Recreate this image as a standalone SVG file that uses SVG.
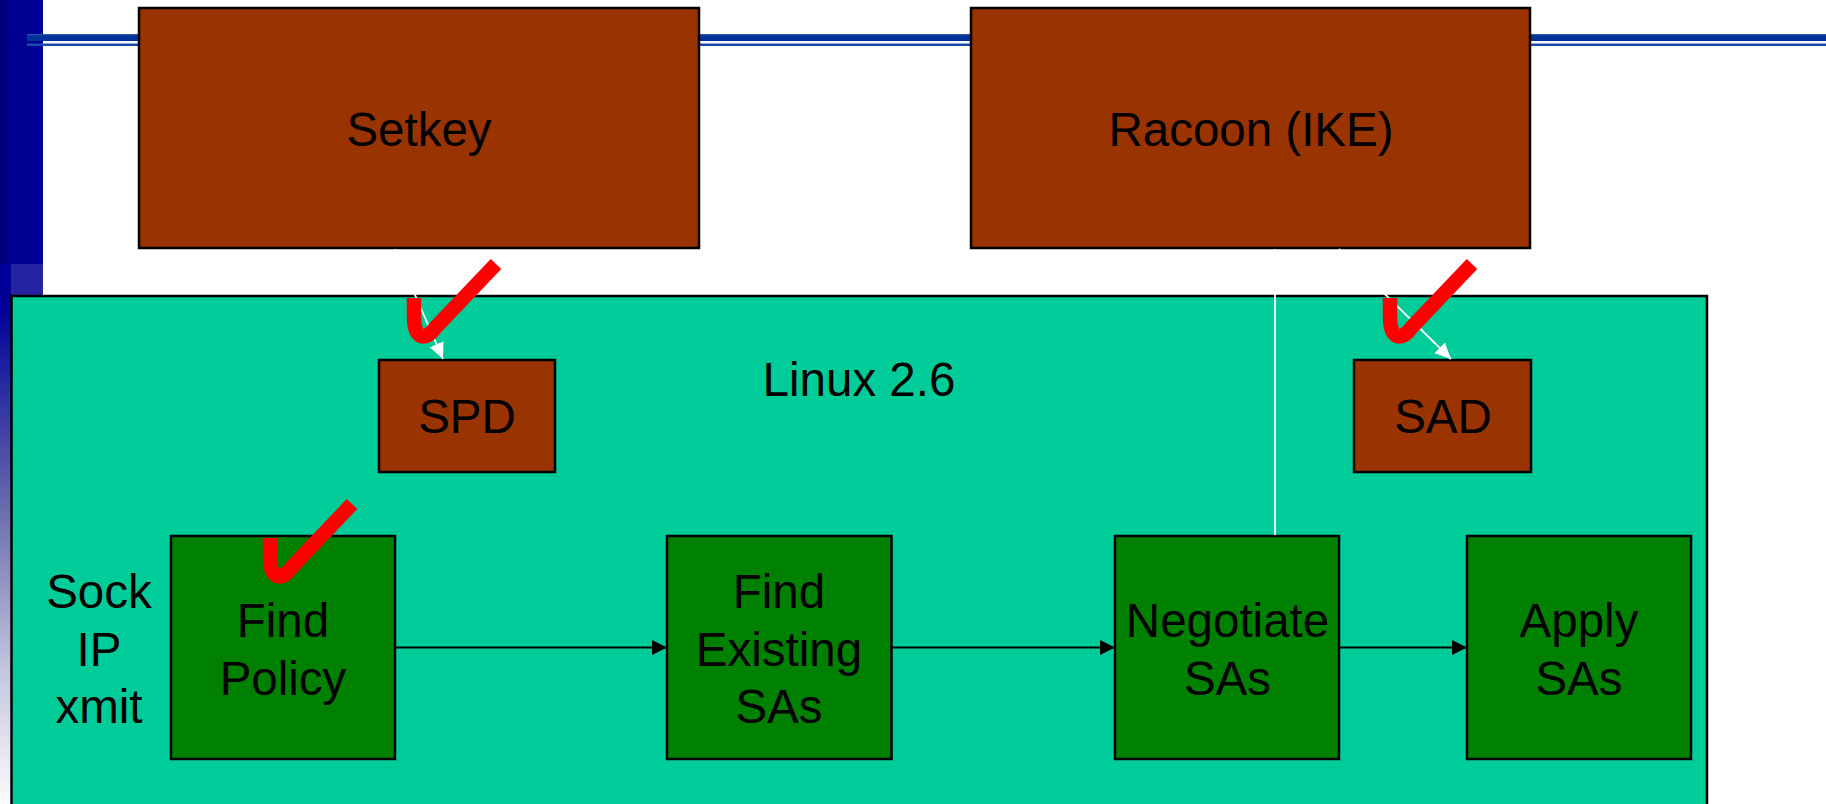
<svg xmlns="http://www.w3.org/2000/svg" width="1826" height="804" viewBox="0 0 1826 804">
<defs>
<style>
.txt{font-family:"Liberation Sans",Arial,sans-serif;font-size:47.5px;fill:#000;text-anchor:middle}
.brown{fill:#993300;stroke:#000;stroke-width:2.5}
.green{fill:#008000;stroke:#000;stroke-width:2.5}
.linux{fill:#00CC99;stroke:#000;stroke-width:2.5}
.flow{stroke:#000;stroke-width:2;fill:none;marker-end:url(#ah)}
.wl{stroke:#fff;stroke-width:1.8;fill:none}
.wa{marker-end:url(#wh)}
.tick{fill:none;stroke:#ff0000;stroke-width:14.5}
</style>
<marker id="ah" markerUnits="userSpaceOnUse" markerWidth="16" markerHeight="16" refX="15" refY="7.5" orient="auto">
<path d="M0,0 L15,7.5 L0,15 z" fill="#000"/>
</marker>
<marker id="wh" markerUnits="userSpaceOnUse" markerWidth="17" markerHeight="16" refX="16" refY="7.5" orient="auto">
<path d="M0,0 L16,7.5 L0,15 z" fill="#fff"/>
</marker>
<linearGradient id="barBottom" gradientUnits="userSpaceOnUse" x1="0" y1="264" x2="0" y2="804">
<stop offset="0" stop-color="#000099"/>
<stop offset="0.08" stop-color="#000099"/>
<stop offset="0.45" stop-color="#6a6aae"/>
<stop offset="0.75" stop-color="#c4c4de"/>
<stop offset="1" stop-color="#fbfbfd"/>
</linearGradient>
<linearGradient id="barTop" x1="0" y1="0" x2="1" y2="0">
<stop offset="0" stop-color="#00007a"/>
<stop offset="0.25" stop-color="#000090"/>
<stop offset="1" stop-color="#000099"/>
</linearGradient>
<path id="check" d="M0,0 V18 C0,43 12,43 22,29 L82,-34"/>
</defs>
<rect x="0" y="0" width="1826" height="804" fill="#fff"/>
<g id="background">
<rect x="0" y="0" width="43" height="264" fill="url(#barTop)"/>
<rect x="0" y="264" width="11" height="540" fill="url(#barBottom)"/>
<rect x="11" y="264" width="32" height="32" fill="#2424a0"/>
<rect x="27" y="34" width="1799" height="7" fill="#003399"/>
<rect x="27" y="34" width="1799" height="1.2" fill="#2a55aa"/>
<rect x="27" y="43.5" width="1799" height="2.5" fill="#1a4aaa"/>
</g>
<g id="setkey">
<rect class="brown" x="139" y="8" width="560" height="240"/>
<text class="txt" x="419" y="146">Setkey</text>
</g>
<g id="racoon">
<rect class="brown" x="971" y="8" width="559" height="240"/>
<text class="txt" x="1251" y="146">Racoon (IKE)</text>
</g>
<g id="linux">
<rect class="linux" x="11.5" y="296" width="1695.5" height="530"/>
<text class="txt" x="859" y="396">Linux 2.6</text>
</g>
<g id="spd">
<rect class="brown" x="379" y="360" width="176" height="112"/>
<text class="txt" x="467" y="433">SPD</text>
</g>
<g id="sad">
<rect class="brown" x="1354" y="360" width="177" height="112"/>
<text class="txt" x="1443" y="433">SAD</text>
</g>
<g id="sock">
<text class="txt" x="99" y="608">Sock</text>
<text class="txt" x="99" y="666">IP</text>
<text class="txt" x="99" y="723">xmit</text>
</g>
<g id="find-policy">
<rect class="green" x="171" y="536" width="224" height="223"/>
<text class="txt" x="283" y="637">Find</text>
<text class="txt" x="283" y="695">Policy</text>
</g>
<g id="find-existing">
<rect class="green" x="667" y="536" width="224.5" height="223"/>
<text class="txt" x="779" y="608">Find</text>
<text class="txt" x="779" y="666">Existing</text>
<text class="txt" x="779" y="723">SAs</text>
</g>
<g id="negotiate">
<rect class="green" x="1115" y="536" width="224" height="223"/>
<text class="txt" x="1227.5" y="637">Negotiate</text>
<text class="txt" x="1227.5" y="695">SAs</text>
</g>
<g id="apply">
<rect class="green" x="1467" y="536" width="224" height="223"/>
<text class="txt" x="1579" y="637">Apply</text>
<text class="txt" x="1579" y="695">SAs</text>
</g>
<g id="connectors">
<line class="flow" x1="396" y1="647.5" x2="667" y2="647.5"/>
<line class="flow" x1="892" y1="647.5" x2="1115" y2="647.5"/>
<line class="flow" x1="1340" y1="647.5" x2="1467" y2="647.5"/>
<line class="wl wa" x1="395" y1="249" x2="443" y2="359"/>
<line class="wl wa" x1="1339" y1="249" x2="1451" y2="359"/>
<line class="wl" x1="1275" y1="249" x2="1275" y2="535" stroke-width="2.2"/>
</g>
<g id="checks">
<use href="#check" class="tick" transform="translate(414,298)"/>
<use href="#check" class="tick" transform="translate(1390,298)"/>
<use href="#check" class="tick" transform="translate(270,538)"/>
</g>
</svg>
